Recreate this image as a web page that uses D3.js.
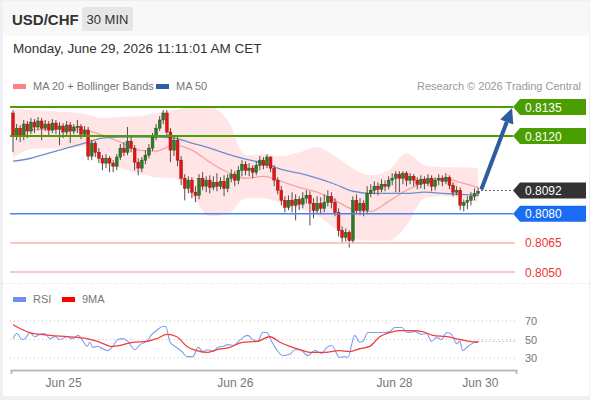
<!DOCTYPE html>
<html lang="en">
<head>
<meta charset="UTF-8" />
<title>USD/CHF 30 MIN</title>
<script src="https://d3js.org/d3.v7.min.js"></script>
<style>
  body { margin: 0; background: #fff; }
  svg { display: block; font-family: "Liberation Sans", Arial, Helvetica, sans-serif; }
</style>
</head>
<body>
<div class="canvas"></div>
<script>
/* candles: 30 min bars, index 0 .. 130 */
const opens = [0.81319,0.81205,0.81241,0.81200,0.81262,0.81226,0.81272,0.81247,0.81278,0.81241,
  0.81262,0.81231,0.81267,0.81236,0.81252,0.81221,0.81257,0.81226,0.81247,0.81249,
  0.81210,0.81231,0.81097,0.81164,0.81117,0.81086,0.81061,0.81086,0.81061,0.81045,
  0.81092,0.81138,0.81117,0.81174,0.81138,0.81066,0.81035,0.81076,0.81102,0.81138,
  0.81195,0.81241,0.81283,0.81319,0.81221,0.81128,0.81179,0.81076,0.80983,0.80931,
  0.80973,0.80911,0.80895,0.80983,0.80942,0.80973,0.80936,0.80962,0.80942,0.80967,
  0.80931,0.80983,0.81004,0.80973,0.81024,0.81055,0.81024,0.81035,0.81014,0.81050,
  0.81076,0.81050,0.81092,0.81035,0.80973,0.80921,0.80869,0.80833,0.80869,0.80843,
  0.80874,0.80849,0.80880,0.80895,0.80854,0.80818,0.80854,0.80828,0.80859,0.80890,
  0.80859,0.80807,0.80714,0.80678,0.80704,0.80662,0.80869,0.80818,0.80854,0.80818,
  0.80905,0.80921,0.80942,0.80926,0.80952,0.80942,0.80973,0.80983,0.81004,0.80983,
  0.81009,0.80973,0.80993,0.80973,0.80952,0.80978,0.80957,0.80983,0.80942,0.80973,
  0.80983,0.80967,0.80988,0.80947,0.80911,0.80921,0.80843,0.80859,0.80869,0.80890,
  0.80905];
const highs = [0.81334,0.81262,0.81257,0.81283,0.81278,0.81293,0.81288,0.81298,0.81293,0.81283,
  0.81278,0.81288,0.81283,0.81272,0.81267,0.81278,0.81272,0.81262,0.81283,0.81262,
  0.81252,0.81247,0.81179,0.81174,0.81138,0.81102,0.81107,0.81097,0.81076,0.81107,
  0.81159,0.81169,0.81247,0.81195,0.81154,0.81086,0.81092,0.81128,0.81159,0.81216,
  0.81262,0.81303,0.81334,0.81334,0.81241,0.81200,0.81195,0.81097,0.81004,0.80993,
  0.80988,0.80942,0.81004,0.81014,0.80993,0.80998,0.80993,0.81009,0.80988,0.80998,
  0.81004,0.81029,0.81019,0.81045,0.81076,0.81071,0.81061,0.81050,0.81071,0.81097,
  0.81092,0.81107,0.81097,0.81050,0.80988,0.80942,0.80890,0.80895,0.80911,0.80900,
  0.80890,0.80911,0.80921,0.80916,0.80880,0.80890,0.80885,0.80900,0.80921,0.80911,
  0.80880,0.80828,0.80735,0.80724,0.80714,0.80890,0.80900,0.80880,0.80869,0.80942,
  0.80952,0.80967,0.80962,0.80978,0.80973,0.80993,0.81009,0.81019,0.81019,0.81019,
  0.81019,0.81009,0.81004,0.80988,0.80998,0.80993,0.81004,0.80998,0.80988,0.81004,
  0.80998,0.81009,0.80998,0.80962,0.80942,0.80936,0.80874,0.80890,0.80911,0.80931,
  0.80936];
const lows = [0.81117,0.81179,0.81169,0.81179,0.81190,0.81210,0.81216,0.81231,0.81179,0.81226,
  0.81195,0.81216,0.81210,0.81154,0.81190,0.81205,0.81164,0.81210,0.81216,0.81185,
  0.81195,0.81076,0.81076,0.81092,0.81061,0.81024,0.81035,0.81014,0.81014,0.81024,
  0.81076,0.81097,0.81102,0.81117,0.81024,0.80998,0.81014,0.81055,0.81086,0.81123,
  0.81179,0.81226,0.81262,0.81200,0.81066,0.81097,0.81045,0.80947,0.80869,0.80905,
  0.80880,0.80859,0.80874,0.80921,0.80911,0.80905,0.80921,0.80916,0.80926,0.80890,
  0.80911,0.80962,0.80942,0.80952,0.80993,0.80998,0.80993,0.80983,0.80998,0.81024,
  0.81029,0.81035,0.81014,0.80942,0.80900,0.80843,0.80807,0.80818,0.80807,0.80766,
  0.80818,0.80828,0.80854,0.80740,0.80776,0.80802,0.80797,0.80807,0.80838,0.80828,
  0.80787,0.80683,0.80652,0.80657,0.80626,0.80647,0.80797,0.80792,0.80787,0.80797,
  0.80885,0.80900,0.80895,0.80911,0.80916,0.80926,0.80947,0.80911,0.80911,0.80952,
  0.80942,0.80952,0.80942,0.80926,0.80931,0.80926,0.80942,0.80916,0.80921,0.80947,
  0.80942,0.80952,0.80926,0.80890,0.80895,0.80818,0.80812,0.80823,0.80843,0.80869,
  0.80890];
const closes = [0.81205,0.81241,0.81200,0.81262,0.81226,0.81272,0.81247,0.81278,0.81241,0.81262,
  0.81231,0.81267,0.81236,0.81252,0.81221,0.81257,0.81226,0.81247,0.81249,0.81210,
  0.81231,0.81097,0.81164,0.81117,0.81086,0.81061,0.81086,0.81061,0.81045,0.81092,
  0.81138,0.81117,0.81174,0.81138,0.81066,0.81035,0.81076,0.81102,0.81138,0.81195,
  0.81241,0.81283,0.81319,0.81221,0.81128,0.81179,0.81076,0.80983,0.80931,0.80973,
  0.80911,0.80895,0.80983,0.80942,0.80973,0.80936,0.80962,0.80942,0.80967,0.80931,
  0.80983,0.81004,0.80973,0.81024,0.81055,0.81024,0.81035,0.81014,0.81050,0.81076,
  0.81050,0.81092,0.81035,0.80973,0.80921,0.80869,0.80833,0.80869,0.80843,0.80874,
  0.80849,0.80880,0.80895,0.80854,0.80818,0.80854,0.80828,0.80859,0.80890,0.80859,
  0.80807,0.80714,0.80678,0.80704,0.80662,0.80869,0.80818,0.80854,0.80818,0.80905,
  0.80921,0.80942,0.80926,0.80952,0.80942,0.80973,0.80983,0.81004,0.80983,0.81009,
  0.80973,0.80993,0.80973,0.80952,0.80978,0.80957,0.80983,0.80942,0.80973,0.80983,
  0.80967,0.80988,0.80947,0.80911,0.80921,0.80843,0.80859,0.80869,0.80890,0.80905,
  0.80916];

/* moving averages / bollinger, read every 5 bars */
const maIdx = [0,5,10,15,20,25,30,35,40,45,50,55,60,65,70,75,80,85,90,95,100,105,110,115,120,125,130];
const ma20 = [0.81226,0.81231,0.81236,0.81236,0.81231,0.81205,0.81169,0.81128,0.81123,0.81154,0.81128,0.81066,0.81014,
  0.80983,0.80993,0.80967,0.80936,0.80911,0.80869,0.80823,0.80812,0.80864,0.80921,0.80962,0.80983,0.80962,0.80936];
const ma50 = [0.81071,0.81086,0.81112,0.81138,0.81164,0.81190,0.81195,0.81195,0.81195,0.81190,0.81164,0.81138,0.81107,
  0.81081,0.81061,0.81029,0.81009,0.80983,0.80952,0.80916,0.80905,0.80905,0.80905,0.80911,0.80905,0.80900,0.80895];
const bbUpper = [0.81340,0.81334,0.81329,0.81324,0.81314,0.81293,0.81298,0.81303,0.81319,0.81334,0.81350,0.81350,0.81283,
  0.81102,0.81107,0.81097,0.81117,0.81143,0.81097,0.81035,0.80998,0.81024,0.81112,0.81050,0.81040,0.81040,0.81035];
const bbLower = [0.81086,0.81133,0.81138,0.81138,0.81148,0.81066,0.81035,0.81009,0.80988,0.80983,0.80895,0.80787,0.80797,
  0.80880,0.80880,0.80854,0.80828,0.80792,0.80724,0.80673,0.80662,0.80662,0.80740,0.80880,0.80890,0.80880,0.80859];

/* RSI + 9MA */
const rsiIdx = [0,1.1,2.5,3.4,4.7,6.1,7.5,8.9,10.3,11.7,13.1,15.1,16.5,18.2,19.6,20.7,21.5,22.3,23.7,25.1,
  26.5,27.9,29.3,30.7,32.1,34.1,35.5,37.4,38.8,40.2,41.9,42.7,43.9,45.3,47.2,48.6,50.3,51.7,53.1,54.5,
  55.9,57.3,58.7,60.1,61.5,62.8,64.2,65.6,67,68.4,69.8,70.9,72.3,73.7,75.4,77.4,78.8,80.2,82.4,84.4,
  86.3,87.7,89.1,91.3,92.7,93.6,95.5,96.9,97.8,99.2,101.7,103.4,105.3,106.7,108.7,110.1,112.3,114.2,115.6,117,
  118.4,119.8,121.2,122.6,124,124.9,125.7,127.1,129.1,130];
const rsiVal = [51,56.5,50,51,57.5,53,55.5,56.5,51,53,50,53,51,54.5,48,42.5,47,41.5,42.5,40,
  38,42.5,50,51,48,39,44.5,48,55.5,60,64,64,47,42.5,37,31.5,31.5,41.5,37,39,
  37,41.5,42.5,44.5,43.5,47,52,54.5,50,48,57.5,57.5,48,39,32.5,34,39,39,32.5,38,
  35,41.5,43.5,30.5,31.5,30.5,54.5,47,48,57.5,57.5,57.5,58.5,63,63,57.5,58.5,55.5,56.5,48,
  52,50,57.5,55.5,45.5,48,38,42.5,47,48];
const ma9Idx = [0,4.7,10.3,15.1,20.7,24.3,27.7,29.9,33.5,37.4,40.2,43,45.8,48.6,51.4,54.2,57,60.6,64.2,68.2,
  71.8,74.6,77.4,80.2,83,86.6,91.3,94.1,96.9,99.7,102.5,105.3,108.1,111.7,114.5,117.3,121.2,124.9,127.7,130];
const ma9Val = [66,57.5,54.5,53,51,47,42.5,43.5,47,48,51,55.5,53,42.5,38,36,39,41.5,47,48,
  53,47,42.5,39,36,36,38,37,40,42.5,53,57.5,59.5,59.5,58.5,54.5,53,50,48,47];

/* key levels */
const levels = [0.8135, 0.8120, 0.8092, 0.8080, 0.8065, 0.8050];
const levelKind = ["res", "res", "last", "sup", "sup2", "sup2"];
const arrowFrom = [130.9, 0.80925];
const arrowTo = [139.5, 0.81345];

/* axis labels */
const tickIdx = [14, 62, 106.5, 130.5];
const tickLabels = ["Jun 25", "Jun 26", "Jun 28", "Jun 30"];
const rsiTicks = [70, 50, 30];

const W = 590, H = 400;
const svg = d3.select(".canvas").append("svg").attr("width", W).attr("height", H);

// card + header
svg.append("rect").attr("width", W).attr("height", H).attr("fill", "#eef0f3");
svg.append("rect").attr("x", 3).attr("y", 1).attr("width", 586).attr("height", 395).attr("fill", "#fff");
svg.append("rect").attr("x", 3).attr("y", 1).attr("width", 586).attr("height", 35).attr("fill", "#f8f8f8");
svg.append("text").attr("x", 12).attr("y", 25).attr("font-size", 15).attr("font-weight", "bold")
  .attr("fill", "#333").text("USD/CHF");
svg.append("rect").attr("x", 82).attr("y", 7).attr("width", 51).attr("height", 24).attr("rx", 2).attr("fill", "#e6e6e6");
svg.append("text").attr("x", 107.5).attr("y", 24).attr("text-anchor", "middle").attr("font-size", 13)
  .attr("fill", "#333").text("30 MIN");
svg.append("text").attr("x", 13).attr("y", 53).attr("font-size", 13.5).attr("fill", "#333")
  .text("Monday, June 29, 2026 11:11:01 AM CET");

// legends
function legend(x0, color, label, yy) {
  svg.append("rect").attr("x", x0).attr("y", yy - 6).attr("width", 13).attr("height", 5).attr("fill", color);
  svg.append("text").attr("x", x0 + 20).attr("y", yy).attr("font-size", 11).attr("fill", "#777").text(label);
}
legend(13, "#ff8080", "MA 20 + Bollinger Bands", 90);
legend(156, "#2f5f9f", "MA 50", 90);
svg.append("text").attr("x", 581).attr("y", 90).attr("text-anchor", "end").attr("font-size", 11)
  .attr("fill", "#999").text("Research \u00a9 2026 Trading Central");
legend(13, "#6f8ff0", "RSI", 303);
legend(62, "#ff0000", "9MA", 303);

// scales
const x = d3.scaleLinear().domain([-0.56, 140.6]).range([11, 516]);
const y = d3.scaleLinear().domain([0.8050, 0.8135]).range([272, 107]);
const yR = d3.scaleLinear().domain([30, 70]).range([358, 321]);

svg.append("defs").append("clipPath").attr("id", "main")
  .append("rect").attr("x", 10).attr("y", 96).attr("width", 503).attr("height", 186);
const plot = svg.append("g").attr("clip-path", "url(#main)");

// bollinger band
const band = d3.area().curve(d3.curveMonotoneX)
  .x((d, i) => x(maIdx[i])).y0((d, i) => y(bbLower[i])).y1(d => y(d));
plot.append("path").datum(bbUpper).attr("d", band).attr("fill", "#ffe1e1").attr("opacity", 0.85);

const maLine = d3.line().curve(d3.curveMonotoneX).x((d, i) => x(maIdx[i])).y(d => y(d));
plot.append("path").datum(ma20).attr("d", maLine).attr("fill", "none").attr("stroke", "#f7a3a3").attr("stroke-width", 1.3);
plot.append("path").datum(ma50).attr("d", maLine).attr("fill", "none").attr("stroke", "#6d8fcc").attr("stroke-width", 1.3);

// candles
const candles = plot.append("g");
closes.forEach((c, i) => {
  const o = opens[i];
  const up = c >= o;
  candles.append("line").attr("x1", x(i)).attr("x2", x(i))
    .attr("y1", y(highs[i])).attr("y2", y(lows[i])).attr("stroke", "#5b4b4b").attr("stroke-width", 1);
  const top = y(Math.max(o, c)), bot = y(Math.min(o, c));
  candles.append("rect").attr("x", x(i) - 1.4).attr("width", 2.8)
    .attr("y", top).attr("height", Math.max(1, bot - top))
    .attr("fill", up ? "#2e7a2a" : "#e01414")
    .attr("stroke", up ? "#1f5a1c" : "#a81010").attr("stroke-width", 0.5);
});

// key levels and tags
const styles = {
  res: { line: "#48a000", w: 2, tag: "#4a9e00" },
  last: { line: "#333", w: 1, tag: "#333" },
  sup: { line: "#4d82ee", w: 1.5, tag: "#1a6df2" },
  sup2: { line: "#f8b6b6", w: 1.5, tag: null }
};
levels.forEach((lv, k) => {
  const s = styles[levelKind[k]], yy = y(lv);
  if (levelKind[k] === "last") {
    svg.append("line").attr("x1", x(130) + 3).attr("x2", 513).attr("y1", yy).attr("y2", yy)
      .attr("stroke", "#333").attr("stroke-dasharray", "1.5,2.5");
  } else {
    svg.append("line").attr("x1", 10).attr("x2", s.tag ? 513 : 515).attr("y1", yy).attr("y2", yy)
      .attr("stroke", s.line).attr("stroke-width", s.w);
  }
  if (s.tag) {
    svg.append("path")
      .attr("d", `M513,${yy} L520,${yy - 8} L586,${yy - 8} L586,${yy + 8} L520,${yy + 8} Z`)
      .attr("fill", s.tag);
  }
  svg.append("text").attr("x", 525).attr("y", yy + 4.5).attr("font-size", 12)
    .attr("fill", s.tag ? "#fff" : "#f03434").text(lv.toFixed(4));
});

// forecast arrow
const ax1 = x(arrowFrom[0]), ay1 = y(arrowFrom[1]), ax2 = x(arrowTo[0]), ay2 = y(arrowTo[1]);
const ang = Math.atan2(ay2 - ay1, ax2 - ax1), hl = 15, hw = 7;
const bx = ax2 - hl * Math.cos(ang), by = ay2 - hl * Math.sin(ang);
svg.append("line").attr("x1", ax1).attr("y1", ay1).attr("x2", bx).attr("y2", by)
  .attr("stroke", "#2c5d9c").attr("stroke-width", 4);
svg.append("path").attr("fill", "#2c5d9c")
  .attr("d", `M${ax2},${ay2} L${bx + hw * Math.sin(ang)},${by - hw * Math.cos(ang)} L${bx - hw * Math.sin(ang)},${by + hw * Math.cos(ang)} Z`);

// panel separator
svg.append("line").attr("x1", 3).attr("x2", 589).attr("y1", 283.5).attr("y2", 283.5)
  .attr("stroke", "#ddd").attr("stroke-dasharray", "1,2");

// RSI panel
rsiTicks.forEach(t => {
  svg.append("line").attr("x1", 10).attr("x2", 517).attr("y1", yR(t)).attr("y2", yR(t))
    .attr("stroke", "#c4c4c4").attr("stroke-dasharray", "1,3");
  svg.append("text").attr("x", 525).attr("y", yR(t) + 4).attr("font-size", 11).attr("fill", "#777").text(t);
});
const rsiLast = rsiVal[rsiVal.length - 1];
svg.append("line").attr("x1", x(130)).attr("x2", 517).attr("y1", yR(rsiLast)).attr("y2", yR(rsiLast))
  .attr("stroke", "#a9bdf2").attr("stroke-dasharray", "1.5,2");
svg.append("path").datum(rsiVal)
  .attr("d", d3.line().curve(d3.curveMonotoneX).x((d, i) => x(rsiIdx[i])).y(d => yR(d)))
  .attr("fill", "none").attr("stroke", "#7f9ff0").attr("stroke-width", 1.1);
svg.append("path").datum(ma9Val)
  .attr("d", d3.line().curve(d3.curveMonotoneX).x((d, i) => x(ma9Idx[i])).y(d => yR(d)))
  .attr("fill", "none").attr("stroke", "#f23c3c").attr("stroke-width", 1.3);

// x axis
const xAxis = svg.append("g").attr("transform", "translate(0,370)")
  .call(d3.axisBottom(x).tickValues(tickIdx).tickFormat((d, i) => tickLabels[i])
    .tickSizeInner(0).tickSizeOuter(4).tickPadding(8));
xAxis.select(".domain").attr("stroke", "#bbb").attr("stroke-width", 2);
xAxis.selectAll("text").attr("font-size", 12).attr("fill", "#777")
  .attr("font-family", "Liberation Sans, Arial, sans-serif");
</script>
</body>
</html>
